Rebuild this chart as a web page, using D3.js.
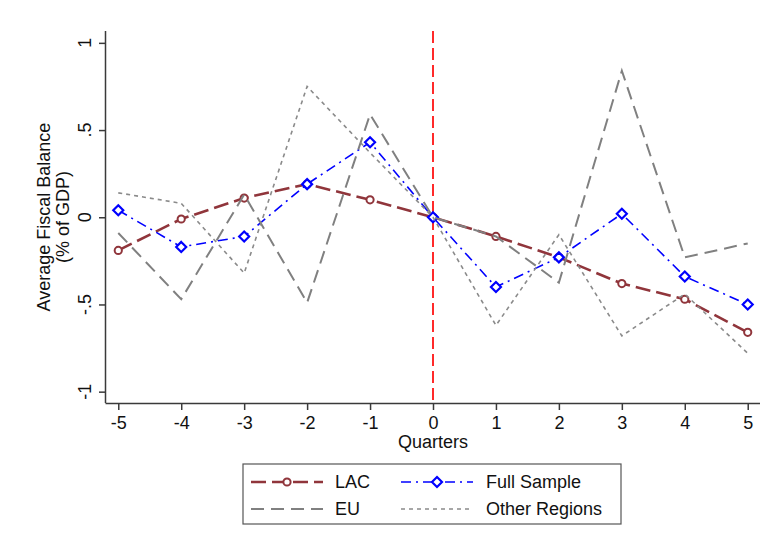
<!DOCTYPE html>
<html>
<head>
<meta charset="utf-8">
<script src="https://cdn.jsdelivr.net/npm/d3@7"></script>
<style>
  html, body { margin: 0; padding: 0; background: #fff; }
  svg { display: block; font-family: "Liberation Sans", Arial, sans-serif; }
</style>
</head>
<body>
<svg id="chart" width="767" height="536"></svg>
<script>
// Quarters relative to the event (0 = event quarter)
const quarters = [-5, -4, -3, -2, -1, 0, 1, 2, 3, 4, 5];

// Average fiscal balance, % of GDP
const lac        = [-0.19, -0.01, 0.11, 0.19, 0.10, 0, -0.11, -0.23, -0.38, -0.47, -0.66];
const fullSample = [0.04, -0.17, -0.11, 0.19, 0.43, 0, -0.40, -0.23, 0.02, -0.34, -0.50];
const eu         = [-0.09, -0.47, 0.13, -0.49, 0.59, 0, -0.11, -0.375, 0.84, -0.23, -0.15];
const other      = [0.14, 0.08, -0.32, 0.75, 0.37, 0, -0.62, -0.10, -0.68, -0.44, -0.78];

const yTicks = [-1, -0.5, 0, 0.5, 1];
const yTickLabels = ["-1", "-.5", "0", ".5", "1"];
const xTicks = quarters;
const xTickLabels = ["-5", "-4", "-3", "-2", "-1", "0", "1", "2", "3", "4", "5"];

const svg = d3.select("#chart");
const plotLeft = 106, plotRight = 760, plotTop = 31, plotBottom = 403;

const x = d3.scaleLinear().domain([-5.195, 5.195]).range([plotLeft, plotRight]);
const y = d3.scaleLinear().domain([-1.065, 1.068]).range([plotBottom, plotTop]);

const axisColor = "#3a3a3a";
const fontSize = 18;

// Event line at quarter 0
svg.append("line")
  .attr("x1", x(0)).attr("x2", x(0))
  .attr("y1", plotTop).attr("y2", plotBottom)
  .attr("stroke", "#ff2a2a").attr("stroke-width", 2)
  .attr("stroke-dasharray", "12,5");

// Series definitions
const series = [
  { name: "LAC", values: lac, color: "#90353b", width: 2.6, dash: "15,6", marker: "circle" },
  { name: "Full Sample", values: fullSample, color: "#0000ff", width: 1.6, dash: "10,5,2,5", marker: "diamond" },
  { name: "EU", values: eu, color: "#808080", width: 2, dash: "13,7", marker: null },
  { name: "Other Regions", values: other, color: "#8a8a8a", width: 1.6, dash: "4,4", marker: null }
];

const line = d3.line().x(d => x(d[0])).y(d => y(d[1]));

function drawMarker(g, kind, cx, cy, color) {
  if (kind === "circle") {
    g.append("circle").attr("cx", cx).attr("cy", cy).attr("r", 3.6)
      .attr("fill", "#fff").attr("stroke", color).attr("stroke-width", 2);
  } else if (kind === "diamond") {
    const s = 5;
    g.append("path")
      .attr("d", `M${cx},${cy - s}L${cx + s},${cy}L${cx},${cy + s}L${cx - s},${cy}Z`)
      .attr("fill", "#fff").attr("stroke", color).attr("stroke-width", 2.2);
  }
}

series.forEach(s => {
  const pts = quarters.map((q, i) => [q, s.values[i]]);
  const g = svg.append("g");
  g.append("path")
    .attr("d", line(pts))
    .attr("fill", "none")
    .attr("stroke", s.color)
    .attr("stroke-width", s.width)
    .attr("stroke-dasharray", s.dash)
    .attr("stroke-linejoin", "miter");
  if (s.marker) {
    pts.forEach(p => drawMarker(g, s.marker, x(p[0]), y(p[1]), s.color));
  }
});

// Y axis
const yAxis = svg.append("g").attr("transform", `translate(${plotLeft},0)`)
  .call(d3.axisLeft(y).tickValues(yTicks).tickSize(7).tickFormat(""));
yAxis.select(".domain").attr("d", `M-0.5,${plotTop}V${plotBottom}`).attr("stroke", axisColor).attr("stroke-width", 1.5);
yAxis.selectAll(".tick line").attr("stroke", axisColor).attr("stroke-width", 1.5);

yTicks.forEach((v, i) => {
  svg.append("text")
    .attr("transform", `translate(85,${y(v)}) rotate(-90)`)
    .attr("text-anchor", "middle")
    .attr("dominant-baseline", "central")
    .attr("font-size", fontSize)
    .attr("fill", "#111")
    .text(yTickLabels[i]);
});

// X axis
const xAxis = svg.append("g").attr("transform", `translate(0,${plotBottom})`)
  .call(d3.axisBottom(x).tickValues(xTicks).tickSize(7)
    .tickFormat((d, i) => xTickLabels[i]));
xAxis.select(".domain").attr("d", `M${plotLeft - 0.5},0.5H${plotRight}`).attr("stroke", axisColor).attr("stroke-width", 1.5);
xAxis.selectAll(".tick line").attr("stroke", axisColor).attr("stroke-width", 1.5);
xAxis.selectAll(".tick text")
  .attr("font-size", fontSize).attr("font-family", "Liberation Sans, Arial, sans-serif")
  .attr("fill", "#111").attr("dy", "0.75em").attr("y", 12);

// Axis titles
svg.append("text")
  .attr("x", (plotLeft + plotRight) / 2).attr("y", 448)
  .attr("text-anchor", "middle").attr("font-size", fontSize).attr("fill", "#111")
  .text("Quarters");

const yMid = (plotTop + plotBottom) / 2;
[["Average Fiscal Balance", 44], ["(% of GDP)", 63]].forEach(([t, cx]) => {
  svg.append("text")
    .attr("transform", `translate(${cx},${yMid}) rotate(-90)`)
    .attr("text-anchor", "middle").attr("dominant-baseline", "central")
    .attr("font-size", fontSize).attr("fill", "#111")
    .text(t);
});

// Legend
const legend = svg.append("g");
legend.append("rect")
  .attr("x", 243).attr("y", 464).attr("width", 378).attr("height", 60)
  .attr("fill", "#fff").attr("stroke", "#555").attr("stroke-width", 1.2);

const legendPos = [
  { kx: 251, tx: 335, y: 482 },
  { kx: 401, tx: 486, y: 482 },
  { kx: 251, tx: 335, y: 509 },
  { kx: 401, tx: 486, y: 509 }
];
const keyLen = 72;
series.forEach((s, i) => {
  const p = legendPos[i];
  legend.append("line")
    .attr("x1", p.kx).attr("x2", p.kx + keyLen)
    .attr("y1", p.y).attr("y2", p.y)
    .attr("stroke", s.color).attr("stroke-width", s.width)
    .attr("stroke-dasharray", s.dash);
  if (s.marker) drawMarker(legend, s.marker, p.kx + keyLen / 2, p.y, s.color);
  legend.append("text")
    .attr("x", p.tx).attr("y", p.y)
    .attr("dominant-baseline", "central")
    .attr("font-size", fontSize).attr("fill", "#111")
    .text(s.name);
});
</script>
</body>
</html>
